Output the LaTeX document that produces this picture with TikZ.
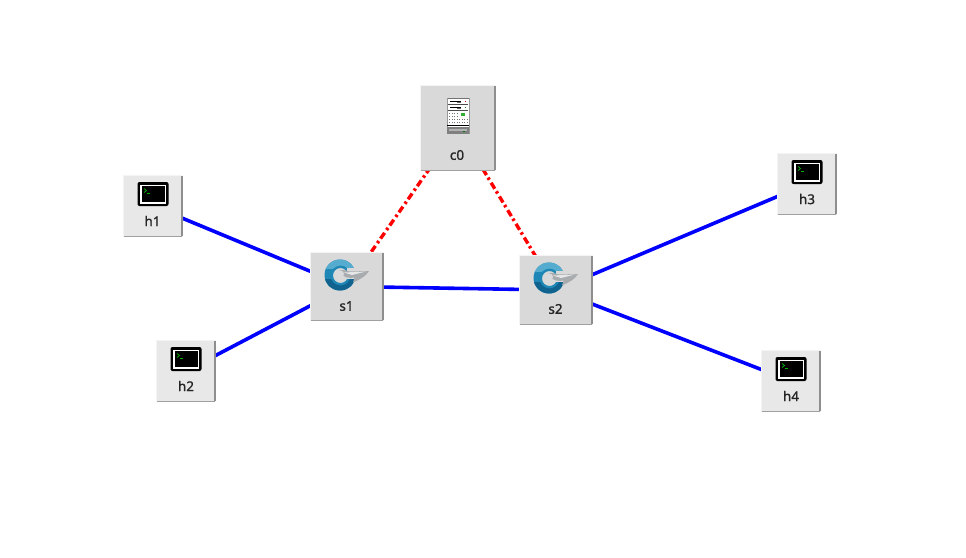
\documentclass[tikz,border=0pt]{standalone}
\usepackage{fontspec}
\setmainfont{Noto Sans}
\newfontfamily\lblfont[FakeBold=1.2]{Noto Sans}
\usetikzlibrary{backgrounds}
\definecolor{boxfill}{HTML}{D9D9D9}
\definecolor{boxlight}{HTML}{F4F4F4}
\definecolor{boxdark}{HTML}{8E8E8E}
\definecolor{boxmid}{HTML}{A0A0A0}
\definecolor{linkblue}{HTML}{0000FF}
\definecolor{ringblue}{HTML}{1F87B5}
\definecolor{ringdark}{HTML}{10628F}
\definecolor{ringlight}{HTML}{55ACCE}
\definecolor{silver}{HTML}{A9ACAE}
\colorlet{boxhost}{black!9}
\tikzset{
  devbox/.style={rectangle,fill=boxfill,inner sep=0pt,outer sep=0pt},
  hostbox/.style={devbox,minimum width=60pt,minimum height=62pt,fill=boxhost},
  switchbox/.style={devbox,minimum width=74pt,minimum height=69pt},
  ctrlbox/.style={devbox,minimum width=76pt,minimum height=86pt},
  devlabel/.style={font=\lblfont\fontsize{13.5pt}{15pt}\selectfont,text=black!85,inner sep=0pt},
  datalink/.style={draw=linkblue,line width=3.6pt},
  ctrllink/.style={draw=red,line width=3.4pt,dash pattern=on 7pt off 3pt on 2.5pt off 3.5pt},
  pics/bevel/.style 2 args={code={
    \draw[boxlight,line width=1.6pt] (-#1,-#2) rectangle (#1,#2);
    \draw[boxmid,line width=1.2pt] (-#1+.8,#2-.4)--(#1-.4,#2-.4);
    \draw[boxdark,line width=1.5pt] (#1-.4,#2-.4)--(#1-.4,-#2+.8);
  }},
  pics/term/.style={code={
    \fill[black,rounded corners=2pt] (-15.5,-12)rectangle(15.5,12);
    \fill[white] (-13,-9.5)rectangle(13,9.5);
    \fill[black] (-11.5,-8)rectangle(11.5,8);
    \draw[green!70!black,line width=.7pt] (-9,-5.5)--(-6.5,-3.5)--(-9,-1.5);
    \draw[green!70!black,line width=.7pt] (-6,-.8)--(-3.5,-.8);
  }},
  pics/swi/.style={code={
    \fill[ringblue,even odd rule] (0,0) circle (15.5) (0.5,0.5) circle (7.5);
    \begin{scope}
      \clip (-20,4) rectangle (20,20);
      \fill[ringdark,even odd rule] (0,0) circle (15.5) (0.5,0.5) circle (10);
    \end{scope}
    \begin{scope}
      \clip (-20,-20) rectangle (20,-7);
      \fill[ringlight,even odd rule] (0,0) circle (15.5) (0.5,0.5) circle (10);
    \end{scope}
    \fill[boxfill] (7,-7) -- (17,-7) -- (17,3.5) -- (7,3.5) -- cycle;
    \fill[silver] (-1,-4) .. controls (3,-6) and (6,-5) .. (9,-3.5) -- (29,-4)
      .. controls (26,1) and (21,4) .. (13,7.5) -- (14.5,2.5) .. controls (10,3.5) and (2,3) .. (-1,-4) -- cycle;
    \fill[white!70!silver] (4,-2.5) -- (26,-3.5) -- (12,0) -- cycle;
    \fill[white!55!silver] (0.5,-1) circle (3.5);
  }},
  pics/srv/.style={code={
    \fill[white] (-11,-18)rectangle(11,18);
    \fill[black!55] (-11,-18)rectangle(11,-17);
    \draw[black!40,line width=.6pt] (-11,-18)--(-11,18) (11,-18)--(11,18);
    \fill[black!70] (-10,-6.5) rectangle (10,-5.5);
    \fill[black!70] (-10,-12.5)rectangle(10,-11.5);
    \fill[black] (-8,-15)rectangle(3,-14);
    \fill[black!60] (-1,-14)rectangle(3,-13);
    \fill[red!70!black] (7,-15)rectangle(8,-14);
    \fill[black] (-8,-9)rectangle(3,-8);
    \fill[black!60] (-1,-8)rectangle(3,-7);
    \fill[green!50!black] (7,-9)rectangle(8,-8);
    \fill[green!60!black!80] (3,-3.5)rectangle(7,-.5);
    \foreach \yy in {-3,0,3,6}{\foreach \xx in {-9,-6.5,-4,-1.5}{\fill[black!55] (\xx,\yy)rectangle ++(1.2,1.2);}}
    \foreach \yy in {3,6}{\foreach \xx in {1,3.5,6,8.5}{\fill[black!55] (\xx,\yy)rectangle ++(1.2,1.2);}}
    \fill[black] (-11,8.5)rectangle(11,10);
    \fill[black!50] (-11,11)rectangle(11,18);
    \fill[black!30] (-9,12.5)rectangle(9,15);
    \fill[green!50!black] (5,14.5)rectangle(7,16);
  }}
}
\begin{document}
\begin{tikzpicture}[x=1pt,y=-1pt]
\useasboundingbox (0,0) rectangle (966,557);
% devices
\node[hostbox] (h1) at (153,206) {};
\node[hostbox] (h2) at (186,371) {};
\node[hostbox] (h3) at (807,184) {};
\node[hostbox] (h4) at (791,381) {};
\node[switchbox] (s1) at (347,286.5) {};
\node[switchbox] (s2) at (556,290) {};
\node[ctrlbox] (c0) at (458,128) {};
\begin{pgfonlayer}{background}
\fill[white] (0,0) rectangle (966,557);
\draw[datalink] (h1.center) -- (s1.center);
\draw[datalink] (h2.center) -- (s1.center);
\draw[datalink] (s1.center) -- (s2.center);
\draw[datalink] (s2.center) -- (h3.center);
\draw[datalink] (s2.center) -- (h4.center);
\draw[ctrllink] (c0.center) -- (s1.center);
\draw[ctrllink] (c0.center) -- (s2.center);
\end{pgfonlayer}
% bevels
\path (h1.center) pic {bevel={29.5}{30.5}};
\path (h2.center) pic {bevel={29.5}{30.5}};
\path (h3.center) pic {bevel={29.5}{30.5}};
\path (h4.center) pic {bevel={29.5}{30.5}};
\path (s1.center) pic {bevel={36.5}{34}};
\path (s2.center) pic {bevel={36.5}{34.5}};
\path (c0.center) pic {bevel={37.5}{42.5}};
% icons
\path (h1.center) ++(0,-12) pic {term};
\path (h2.center) ++(0,-12) pic {term};
\path (h3.center) ++(0,-12) pic {term};
\path (h4.center) ++(0,-12) pic {term};
\path (s1.center) ++(-7,-11.5) pic {swi};
\path (s2.center) ++(-7,-12) pic {swi};
\path (c0.center) ++(0,-12) pic {srv};
% labels
\node[devlabel] (lh1) at (152.5,221) {h1};
\node[devlabel] (lh2) at (186,386) {h2};
\node[devlabel] (lh3) at (807,199) {h3};
\node[devlabel] (lh4) at (791,396) {h4};
\node[devlabel] (ls1) at (346.5,306) {s1};
\node[devlabel] (ls2) at (555.5,309) {s2};
\node[devlabel] (lc0) at (457,155) {c0};
\end{tikzpicture}
\end{document}
